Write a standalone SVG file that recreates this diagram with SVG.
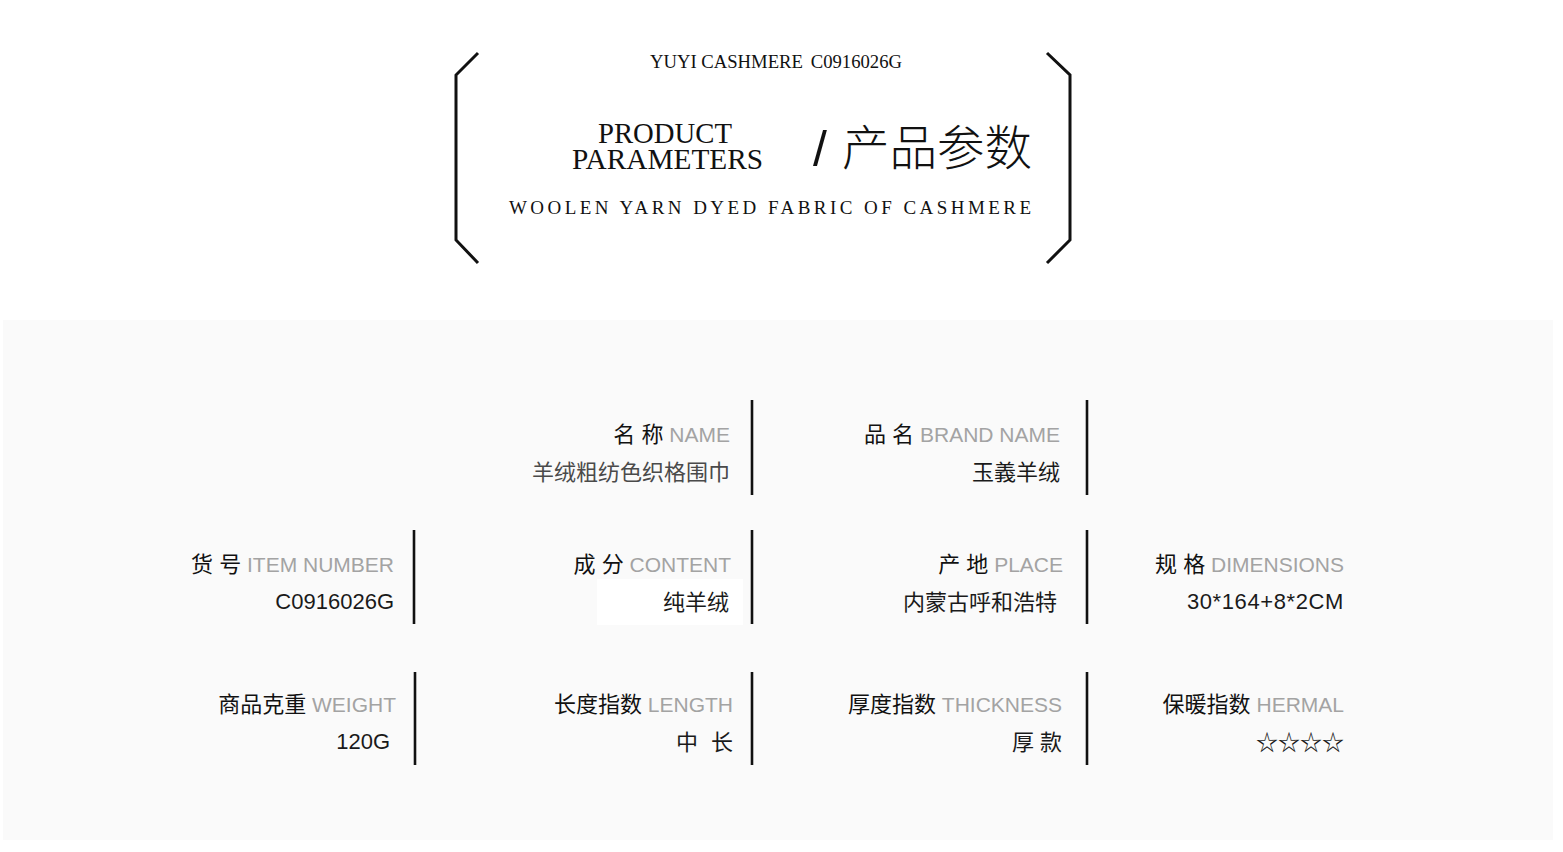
<svg xmlns="http://www.w3.org/2000/svg" width="1563" height="852" viewBox="0 0 1563 852">
<style>
.serif{font-family:"Liberation Serif","Times New Roman",serif;fill:#111}
.lab{font-family:"Liberation Sans","Noto Sans CJK SC",sans-serif;font-size:21px;text-anchor:end}
.zh{font-family:"Liberation Sans","Noto Sans CJK SC",sans-serif;font-size:22px;fill:#111}
.en{fill:#a3a3a3}
.val{font-family:"Liberation Sans","Noto Sans CJK SC",sans-serif;font-size:22px;fill:#1a1a1a;text-anchor:end}
.div{stroke:#111;stroke-width:2.6;fill:none}
.br{stroke:#111;stroke-width:3;fill:none;stroke-linecap:butt;stroke-linejoin:miter}
</style>
<rect x="0" y="0" width="1563" height="852" fill="#ffffff"/>
<rect x="3" y="320" width="1550" height="520" fill="#fafafa"/>
<g id="header">
<polyline class="br" points="478,53 456,75 456,240 478,263"/>
<polyline class="br" points="1047,53 1070,75 1070,240 1047,263"/>
<text class="serif" x="650" y="68" font-size="19" textLength="252" lengthAdjust="spacingAndGlyphs">YUYI CASHMERE<tspan dx="8">C0916026G</tspan></text>
<text class="serif" font-size="30"><tspan x="598" y="143" textLength="134" lengthAdjust="spacingAndGlyphs">PRODUCT</tspan><tspan x="572" y="169" textLength="191" lengthAdjust="spacingAndGlyphs">PARAMETERS</tspan></text>
<text x="813" y="166" font-family="Liberation Sans,sans-serif" font-size="50" fill="#111" font-weight="300">/</text>
<text x="842" y="165" font-family="Noto Sans CJK SC,sans-serif" font-size="47.5" font-weight="300" fill="#111">产品参数</text>
<text class="serif" x="509" y="214" font-size="19" textLength="522" lengthAdjust="spacing">WOOLEN YARN DYED FABRIC OF CASHMERE</text>
</g>
<g id="connectors">
<line class="div" x1="752" y1="400" x2="752" y2="495"/>
<line class="div" x1="1087" y1="400" x2="1087" y2="495"/>
<line class="div" x1="414" y1="530" x2="414" y2="624"/>
<line class="div" x1="752" y1="530" x2="752" y2="624"/>
<line class="div" x1="1087" y1="530" x2="1087" y2="624"/>
<line class="div" x1="415" y1="672" x2="415" y2="765"/>
<line class="div" x1="752" y1="672" x2="752" y2="765"/>
<line class="div" x1="1087" y1="672" x2="1087" y2="765"/>
</g>
<g id="name">
<text class="lab" x="730" y="442"><tspan class="zh">名 称</tspan> <tspan class="en">NAME</tspan></text>
<text class="val" x="730" y="480" style="fill:#4a4a4a">羊绒粗纺色织格围巾</text>
</g>
<g id="brand-name">
<text class="lab" x="1060" y="442"><tspan class="zh">品 名</tspan> <tspan class="en">BRAND NAME</tspan></text>
<text class="val" x="1060" y="480">玉義羊绒</text>
</g>
<g id="item-number">
<text class="lab" x="394" y="572"><tspan class="zh">货 号</tspan> <tspan class="en">ITEM NUMBER</tspan></text>
<text class="val" x="394" y="609">C0916026G</text>
</g>
<g id="content">
<rect x="597" y="579" width="146" height="46" fill="#ffffff"/>
<text class="lab" x="731" y="572"><tspan class="zh">成 分</tspan> <tspan class="en">CONTENT</tspan></text>
<text class="val" x="729" y="610">纯羊绒</text>
</g>
<g id="place">
<text class="lab" x="1063" y="572"><tspan class="zh">产 地</tspan> <tspan class="en">PLACE</tspan></text>
<text class="val" x="1057" y="610">内蒙古呼和浩特</text>
</g>
<g id="dimensions">
<text class="lab" x="1344" y="572"><tspan class="zh">规 格</tspan> <tspan class="en">DIMENSIONS</tspan></text>
<text class="val" x="1344" y="609" letter-spacing="0.6">30*164+8*2CM</text>
</g>
<g id="weight">
<text class="lab" x="396" y="712"><tspan class="zh">商品克重</tspan> <tspan class="en">WEIGHT</tspan></text>
<text class="val" x="390" y="749">120G</text>
</g>
<g id="length">
<text class="lab" x="733" y="712"><tspan class="zh">长度指数</tspan> <tspan class="en">LENGTH</tspan></text>
<text class="val" x="733" y="750">中<tspan dx="13">长</tspan></text>
</g>
<g id="thickness">
<text class="lab" x="1062" y="712"><tspan class="zh">厚度指数</tspan> <tspan class="en">THICKNESS</tspan></text>
<text class="val" x="1062" y="750">厚 款</text>
</g>
<g id="thermal">
<text class="lab" x="1344" y="712"><tspan class="zh">保暖指数</tspan> <tspan class="en">HERMAL</tspan></text>
<text class="val" x="1344" y="750" style="font-family:'Noto Sans CJK SC',sans-serif">☆☆☆☆</text>
</g>
</svg>
